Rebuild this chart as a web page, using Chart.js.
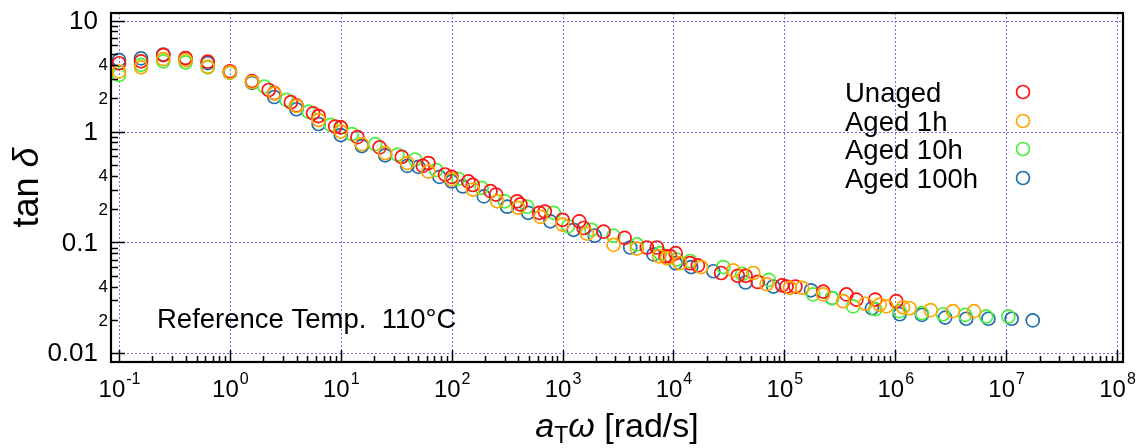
<!DOCTYPE html>
<html>
<head>
<meta charset="utf-8">
<script src="https://cdn.jsdelivr.net/npm/chart.js@4.4.1/dist/chart.umd.min.js"></script>
<style>
  html, body { margin: 0; padding: 0; background: #fff; }
  #wrap { position: relative; width: 1140px; height: 448px; }
</style>
</head>
<body>
<div id="wrap"><canvas id="c" width="1140" height="448"></canvas></div>
<script>
// ---------------- data ----------------
const seriesNames = ['Unaged', 'Aged 1h', 'Aged 10h', 'Aged 100h'];

const unagedX = [0.1, 0.158, 0.251, 0.398, 0.631, 1, 1.585,
  2.239, 2.512, 3.548, 3.981, 5.623, 6.310, 8.913, 10,
  14.13, 22.39, 35.48, 54.95, 61.66, 87.10, 100,
  141.3, 154.9, 223.9, 251.2, 389.0, 416.9, 616.6, 691.8, 1000,
  1413, 1549, 2344, 3631, 5754, 7079, 8511, 9333,
  1.047e4, 1.413e4, 1.660e4, 2.692e4, 3.802e4, 4.467e4, 5.754e4, 9.55e4, 1.047e5, 1.259e5,
  2.239e5, 3.631e5, 4.467e5, 6.607e5, 1.023e6];
const unagedY = [4.13, 4.3, 4.9, 4.6, 4.27, 3.5, 2.85,
  2.37, 2.22, 1.84, 1.72, 1.46, 1.38, 1.11, 1.09,
  0.89, 0.72, 0.59, 0.49, 0.52, 0.41, 0.39,
  0.355, 0.33, 0.29, 0.27, 0.235, 0.22, 0.185, 0.19, 0.16,
  0.155, 0.135, 0.125, 0.11, 0.09, 0.09, 0.075, 0.075,
  0.08, 0.065, 0.062, 0.053, 0.05, 0.05, 0.044, 0.041, 0.040, 0.040,
  0.036, 0.034, 0.0305, 0.0305, 0.0295];

const aged1X = [0.1, 0.158, 0.251, 0.398, 0.631, 1, 1.585,
  2.512, 3.981, 6.310, 10, 15.49, 25.12, 39.81, 61.66,
  100, 154.9, 257.0, 398.1, 631.0, 1000, 1660, 2884,
  4677, 7413, 8710, 1.148e4, 1.778e4, 3.467e4, 5.248e4, 6.918e4,
  1.122e5, 1.445e5, 2.239e5, 3.388e5, 5.370e5, 7.244e5, 8.318e5, 1.175e6,
  1.349e6, 2.089e6, 3.311e6, 5.129e6];
const aged1Y = [3.47, 3.8, 4.5, 4.4, 3.85, 3.42, 2.8,
  2.2, 1.70, 1.27, 1.0, 0.77, 0.64, 0.52, 0.435,
  0.37, 0.30, 0.235, 0.205, 0.17, 0.145, 0.12, 0.095,
  0.088, 0.075, 0.072, 0.065, 0.06, 0.056, 0.053, 0.042,
  0.039, 0.039, 0.034, 0.0295, 0.028, 0.0275, 0.0265, 0.026,
  0.0255, 0.0245, 0.024, 0.024];

const aged10X = [0.1, 0.158, 0.251, 0.398, 0.631, 1, 1.585,
  2.042, 3.236, 5.129, 8.128, 10, 12.59, 20.42, 32.36,
  46.77, 72.44, 114.8, 186.2, 302.0, 478.6, 831.8, 1122,
  1820, 2884, 4677, 7586, 1.072e4, 1.413e4, 2.818e4, 4.169e4, 7.244e4, 1.820e5,
  2.692e5, 4.169e5, 6.607e5, 1.096e6, 1.738e6, 2.692e6, 4.266e6, 6.607e6, 1.047e7];
const aged10Y = [3.24, 4.0, 4.3, 4.2, 3.8, 3.4, 2.8,
  2.55, 1.93, 1.51, 1.15, 1.09, 0.95, 0.77, 0.62,
  0.56, 0.45, 0.375, 0.31, 0.235, 0.21, 0.185, 0.14,
  0.13, 0.115, 0.096, 0.08, 0.07, 0.068, 0.06, 0.052, 0.046, 0.034,
  0.0315, 0.0265, 0.025, 0.024, 0.023, 0.0225, 0.0222, 0.0215, 0.0215];

const aged100X = [0.1, 0.158, 0.251, 0.398, 0.631, 1, 1.585,
  2.512, 3.981, 6.310, 10, 15.49, 25.12, 39.81, 50.12,
  77.62, 100, 125.9, 195.0, 316.2, 489.8, 776.2, 1259,
  1950, 4074, 6607, 1.047e4, 1.445e4, 2.291e4, 4.467e4, 7.943e4,
  1.738e5, 2.692e5, 6.166e5, 1.096e6, 1.738e6, 2.818e6, 4.365e6, 6.918e6,
  1.122e7, 1.738e7];
const aged100Y = [4.43, 4.57, 4.95, 4.6, 4.15, 3.4, 2.75,
  2.05, 1.59, 1.17, 0.93, 0.74, 0.61, 0.49, 0.48,
  0.39, 0.355, 0.32, 0.26, 0.21, 0.185, 0.155, 0.13,
  0.115, 0.09, 0.078, 0.065, 0.06, 0.055, 0.0435, 0.04,
  0.037, 0.0315, 0.0255, 0.0225, 0.0222, 0.021, 0.0205, 0.0205,
  0.0205, 0.0198];

// tick labels
const xTickValues = [0.1, 1, 10, 100, 1e3, 1e4, 1e5, 1e6, 1e7, 1e8];
const xTickExponents = ['-1', '0', '1', '2', '3', '4', '5', '6', '7', '8'];
const yTickValues = [0.01, 0.1, 1, 10];
const yTickLabels = ['0.01', '0.1', '1', '10'];
const yMinorLabelValues = [0.02, 0.04, 0.2, 0.4, 2, 4];
const yMinorLabels = ['2', '4', '2', '4', '2', '4'];

const seriesColors = ['#ff1414', '#ffa500', '#4cf03c', '#1f6fa8'];

// ---------------- chart ----------------
const FONT = "'Liberation Sans', Arial, Helvetica, sans-serif";

function pts(xs, ys) { return xs.map((x, i) => ({ x: x, y: ys[i] })); }

const datasets = [
  { label: seriesNames[0], data: pts(unagedX, unagedY), borderColor: seriesColors[0], order: 1 },
  { label: seriesNames[1], data: pts(aged1X, aged1Y), borderColor: seriesColors[1], order: 0 },
  { label: seriesNames[2], data: pts(aged10X, aged10Y), borderColor: seriesColors[2], order: 2 },
  { label: seriesNames[3], data: pts(aged100X, aged100Y), borderColor: seriesColors[3], order: 3 }
].map(d => Object.assign(d, {
  backgroundColor: 'rgba(0,0,0,0)',
  pointRadius: 6.5,
  pointHoverRadius: 6.5,
  pointBorderWidth: 1.7,
  showLine: false
}));

const decorPlugin = {
  id: 'decor',
  beforeDatasetsDraw(chart) {
    const { ctx, chartArea: a, scales: { x, y } } = chart;
    ctx.save();
    ctx.strokeStyle = '#7070ff';
    ctx.lineWidth = 1;
    ctx.setLineDash([2, 2]);
    xTickValues.forEach(v => {
      const px = Math.round(x.getPixelForValue(v)) + 0.5;
      ctx.beginPath(); ctx.moveTo(px, a.top); ctx.lineTo(px, a.bottom); ctx.stroke();
    });
    yTickValues.forEach(v => {
      const py = Math.round(y.getPixelForValue(v)) + 0.5;
      ctx.beginPath(); ctx.moveTo(a.left, py); ctx.lineTo(a.right, py); ctx.stroke();
    });
    ctx.restore();
  },
  afterDatasetsDraw(chart) {
    const { ctx, chartArea: a, scales: { x, y } } = chart;
    ctx.save();
    ctx.strokeStyle = '#000';
    ctx.fillStyle = '#000';
    ctx.setLineDash([]);
    // ticks on left axis
    ctx.lineWidth = 1.5;
    yTickValues.forEach(v => {
      const py = Math.round(y.getPixelForValue(v)) + 0.5;
      ctx.beginPath(); ctx.moveTo(a.left, py); ctx.lineTo(a.left + 14, py); ctx.stroke();
      if (v < 10) {
        for (let m = 2; m <= 9; m++) {
          const my = Math.round(y.getPixelForValue(v * m)) + 0.5;
          if (my < a.top) continue;
          ctx.beginPath(); ctx.moveTo(a.left, my); ctx.lineTo(a.left + 7, my); ctx.stroke();
        }
      }
    });
    // ticks on bottom axis
    xTickValues.forEach(v => {
      const px = Math.round(x.getPixelForValue(v)) + 0.5;
      ctx.beginPath(); ctx.moveTo(px, a.bottom); ctx.lineTo(px, a.bottom - 12); ctx.stroke();
      if (v < 1e8) {
        for (let m = 2; m <= 9; m++) {
          const mx = Math.round(x.getPixelForValue(v * m)) + 0.5;
          ctx.beginPath(); ctx.moveTo(mx, a.bottom); ctx.lineTo(mx, a.bottom - 6); ctx.stroke();
        }
      }
    });
    // frame
    ctx.lineWidth = 2.2;
    ctx.strokeRect(a.left, a.top, a.right - a.left, a.bottom - a.top);

    // y tick labels
    ctx.textAlign = 'right';
    ctx.textBaseline = 'middle';
    ctx.font = '26px ' + FONT;
    yTickValues.forEach((v, i) => {
      ctx.fillText(yTickLabels[i], 98, y.getPixelForValue(v) + 1);
    });
    ctx.font = '17px ' + FONT;
    yMinorLabelValues.forEach((v, i) => {
      ctx.fillText(yMinorLabels[i], 108, y.getPixelForValue(v) + 1);
    });

    // x tick labels: 10 with superscript exponent
    ctx.textBaseline = 'alphabetic';
    ctx.textAlign = 'left';
    xTickValues.forEach((v, i) => {
      const px = x.getPixelForValue(v);
      ctx.font = '24px ' + FONT;
      const w1 = ctx.measureText('10').width;
      ctx.font = '16px ' + FONT;
      const w2 = ctx.measureText(xTickExponents[i]).width;
      const start = px - (w1 + w2) / 2;
      ctx.font = '24px ' + FONT;
      ctx.fillText('10', start, 397);
      ctx.font = '16px ' + FONT;
      ctx.fillText(xTickExponents[i], start + w1 + 1, 384);
    });

    // x axis title: aT ω [rad/s]
    const cx = (a.left + a.right) / 2;
    const parts = [
      { t: 'a', f: 'italic 34px ' + FONT, dy: 0 },
      { t: 'T', f: '23px ' + FONT, dy: 6 },
      { t: 'ω', f: 'italic 34px ' + FONT, dy: 0 },
      { t: ' [rad/s]', f: '34px ' + FONT, dy: 0 }
    ];
    let tw = 0;
    parts.forEach(p => { ctx.font = p.f; p.w = ctx.measureText(p.t).width; tw += p.w; });
    let sx = cx - tw / 2;
    parts.forEach(p => { ctx.font = p.f; ctx.fillText(p.t, sx, 437 + p.dy); sx += p.w; });

    // y axis title: tan δ
    ctx.save();
    ctx.translate(38, (a.top + a.bottom) / 2);
    ctx.rotate(-Math.PI / 2);
    const yparts = [
      { t: 'tan ', f: '36px ' + FONT },
      { t: 'δ', f: 'italic 36px ' + FONT }
    ];
    let yw = 0;
    yparts.forEach(p => { ctx.font = p.f; p.w = ctx.measureText(p.t).width; yw += p.w; });
    let ys = -yw / 2;
    yparts.forEach(p => { ctx.font = p.f; ctx.fillText(p.t, ys, 0); ys += p.w; });
    ctx.restore();

    // annotation
    ctx.font = '27.5px ' + FONT;
    ctx.fillText('Reference Temp.  110°C', 157, 328);

    // legend
    const legendY = [92, 121, 149, 178];
    seriesNames.forEach((n, i) => {
      ctx.font = '27.5px ' + FONT;
      ctx.fillStyle = '#000';
      ctx.fillText(n, 845, legendY[i] + 9.5);
      ctx.beginPath();
      ctx.strokeStyle = seriesColors[i];
      ctx.lineWidth = 1.7;
      ctx.arc(1023, legendY[i], 6.5, 0, Math.PI * 2);
      ctx.stroke();
    });
    ctx.restore();
  }
};

new Chart(document.getElementById('c'), {
  type: 'scatter',
  data: { datasets: datasets },
  options: {
    responsive: false,
    animation: false,
    devicePixelRatio: 1,
    layout: { padding: { left: 111, top: 13, right: 17, bottom: 86 } },
    plugins: { legend: { display: false }, tooltip: { enabled: false } },
    scales: {
      x: { type: 'logarithmic', display: false, bounds: 'data', min: 0.0847, max: 1.132e8 },
      y: { type: 'logarithmic', display: false, bounds: 'data', min: 0.00835, max: 11.73 }
    }
  },
  plugins: [decorPlugin]
});
</script>
</body>
</html>
